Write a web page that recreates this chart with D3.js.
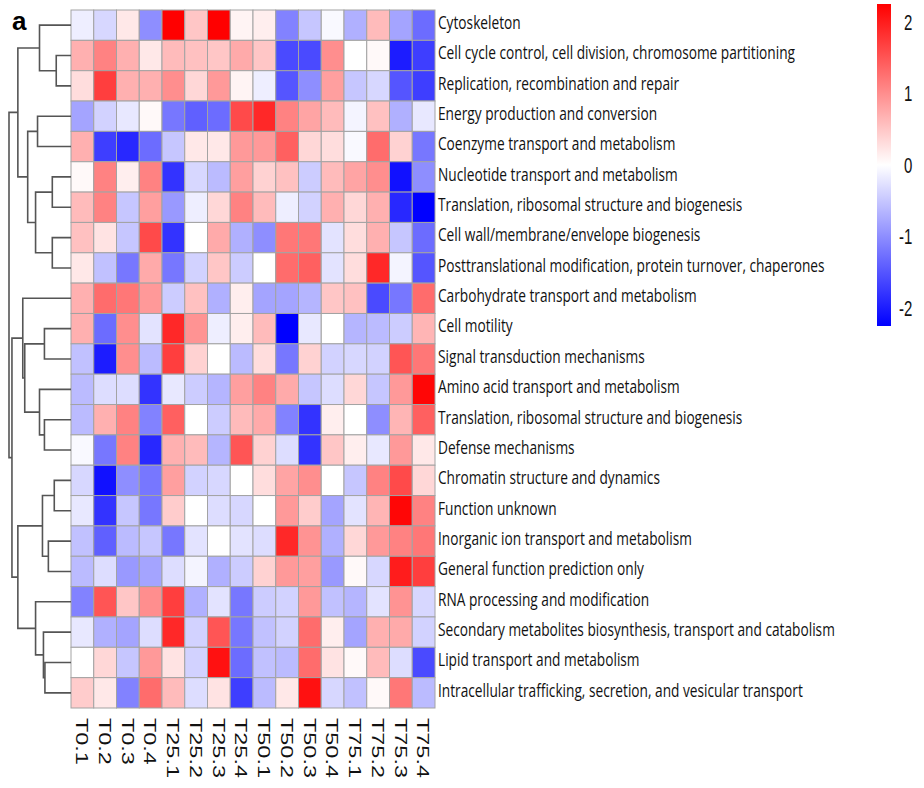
<!DOCTYPE html>
<meta charset="utf-8">
<style>
body { margin: 0; background: #fff; }
.cell { stroke: #a3a3a3; stroke-width: 1; }
.dendro { fill: none; stroke: #555; stroke-width: 1.6px; }
.rowlab { font: 13.7px "Open Sans", sans-serif; fill: #111; }
.collab { font: 17px "Liberation Sans", Arial, sans-serif; fill: #111; }
.leglab { font: 15px "Liberation Sans", Arial, sans-serif; fill: #111; }
</style>
<div id="chart"></div>
<script src="https://cdn.jsdelivr.net/npm/d3@7"></script>
<script>

var columns = ["T0.1","T0.2","T0.3","T0.4","T25.1","T25.2","T25.3","T25.4",
               "T50.1","T50.2","T50.3","T50.4","T75.1","T75.2","T75.3","T75.4"];

var categories = [
  "Cytoskeleton",
  "Cell cycle control, cell division, chromosome partitioning",
  "Replication, recombination and repair",
  "Energy production and conversion",
  "Coenzyme transport and metabolism",
  "Nucleotide transport and metabolism",
  "Translation, ribosomal structure and biogenesis",
  "Cell wall/membrane/envelope biogenesis",
  "Posttranslational modification, protein turnover, chaperones",
  "Carbohydrate transport and metabolism",
  "Cell motility",
  "Signal transduction mechanisms",
  "Amino acid transport and metabolism",
  "Translation, ribosomal structure and biogenesis",
  "Defense mechanisms",
  "Chromatin structure and dynamics",
  "Function unknown",
  "Inorganic ion transport and metabolism",
  "General function prediction only",
  "RNA processing and modification",
  "Secondary metabolites biosynthesis, transport and catabolism",
  "Lipid transport and metabolism",
  "Intracellular trafficking, secretion, and vesicular transport"
];

// z-scores, one row per category, one value per column
var matrix = [
  [-0.15,-0.35, 0.2,-1.0, 2.3, 0.5, 2.3, 0.1, 0.15,-1.1,-0.5,-0.05,-0.7, 0.6,-0.8,-1.3],
  [ 0.7, 1.1, 0.7, 0.2, 0.6, 0.55, 0.5, 0.75, 0.5,-1.6,-1.6, 1.0, 0.0, 0.05,-2.0,-1.7],
  [ 0.3, 1.7, 0.7, 0.7, 1.0, 0.35, 0.9, 0.1,-0.15,-1.5,-1.0, 0.85,-0.5,-0.35,-1.5,-1.7],
  [-0.8,-0.4,-0.2, 0.05,-1.2,-1.4,-1.3, 1.6, 1.9, 1.1, 0.8, 0.6,-0.1, 0.55,-0.7,-0.2],
  [ 0.7,-1.7,-1.9,-1.3,-0.5, 0.2, 0.2, 0.9, 0.9, 1.4, 0.35, 0.3,-0.05, 1.3, 0.4,-1.2],
  [ 0.05, 1.1, 0.15, 1.1,-1.8,-0.35,-0.6, 0.85, 0.4, 0.55,-0.45, 0.6, 0.8, 1.0,-2.1,-1.0],
  [ 0.6, 1.1,-0.5, 0.85,-0.9,-0.15, 0.35, 1.1, 0.6,-0.15,-0.4, 0.7, 0.35, 0.7,-1.9,-2.3],
  [ 0.55, 0.25,-0.5, 1.6,-1.8, 0.0, 0.75,-0.7,-1.0, 1.2, 1.2,-0.25, 0.3, 0.7,-0.5,-1.3],
  [ 0.2,-0.55,-1.2, 0.75,-1.2,-0.4, 0.5,-0.45, 0.0, 1.3, 1.4,-0.25, 0.3, 1.9,-0.1,-1.5],
  [ 0.7, 1.3, 1.2, 0.9,-0.45, 0.55,-0.7, 0.15,-0.8,-0.8,-0.65, 0.5, 0.55,-1.6,-1.2, 1.3],
  [ 0.7,-1.3, 1.0,-0.25, 1.9, 0.95,-0.15, 0.15, 0.6,-2.3,-0.2, 0.0,-0.65,-0.6,-0.45, 0.65],
  [-0.55,-2.0, 1.0,-0.6, 1.7, 0.4, 0.0,-0.6, 0.3,-1.2, 0.4,-0.4,-0.35,-0.4, 1.5, 1.2],
  [-0.6,-0.3,-0.3,-1.8,-0.2,-0.45,-0.65, 0.85, 1.1, 0.75,-0.5,-0.3, 0.35,-0.5, 0.9, 2.2],
  [-0.6, 0.7, 1.1,-1.1, 1.4, 0.0,-0.45, 0.6, 0.75,-1.1,-1.8, 0.15, 0.0,-1.0, 0.65, 1.4],
  [-0.05,-1.2, 1.1,-1.9, 0.7, 0.6,-0.65, 1.5, 0.4,-0.3,-1.8, 0.5, 0.15,-0.2, 0.9, 0.2],
  [-0.35,-2.1,-1.0,-1.2, 0.85,-0.4,-0.35, 0.0, 0.3, 0.8, 1.0, 0.0,-0.5, 1.1, 1.6, 0.35],
  [-0.2,-1.8,-0.5,-1.2, 0.45, 0.0,-0.3,-0.35, 0.0, 0.9, 0.45,-0.8,-0.25, 0.65, 2.2, 1.1],
  [-0.55,-1.4,-0.6,-0.5,-1.2,-0.25, 0.0,-0.25,-0.3, 1.9, 0.95,-0.7, 0.35, 0.9, 1.1, 1.2],
  [-0.6,-0.3,-0.9,-0.8,-0.3,-0.1,-0.7,-0.45, 0.4, 0.9, 0.85,-0.9, 0.05,-0.35, 2.0, 1.7],
  [-1.1, 1.5, 0.5, 1.0, 1.7,-0.7,-0.25,-1.2,-0.45,-0.4, 0.9,-0.55,-0.65,-0.25, 0.95,-0.35],
  [-0.2,-0.7,-0.8,-0.3, 1.9,-0.4, 1.5,-1.2,-0.55,-0.4, 1.3, 0.15,-0.8, 0.7, 0.75,-0.4],
  [ 0.0, 0.35,-0.5, 0.9, 0.25,-0.4, 2.1,-1.3,-0.55,-0.6, 1.3, 0.25, 0.05, 0.6,-0.3,-1.6],
  [ 0.45, 0.2,-1.1, 1.3, 0.6,-0.3, 0.25,-1.7,-0.6, 0.2, 2.1,-0.35,-0.55, 0.05, 1.2,-0.6]
];

// row clustering, hclust style: negative = leaf (row index + 1), positive = earlier merge
var merges = [
  [-2, -3], [-1, 1], [-4, -5], [-6, -7], [-8, -9], [4, 5], [3, 6], [2, 7],
  [-11, -12], [-14, -15], [-13, 10], [9, 11], [-10, 12],
  [-16, -17], [-18, -19], [14, 15], [-22, -23], [-21, 17], [-20, 18], [16, 19],
  [13, 20], [8, 21]
];
var mergeHeights = [15, 32, 34, 19, 19, 36, 44, 54, 27, 27, 32, 47, 49,
                    17, 23, 29, 26.5, 28, 36, 54, 60, 63];

var legendTicks = [2, 1, 0, -1, -2];

var width = 924, height = 788;
var gridLeft = 71, gridRight = 435, gridTop = 10, gridBottom = 708;
var stretch = 1.38; // the source figure is squeezed horizontally

var svg = d3.select("#chart").append("svg")
    .attr("width", width)
    .attr("height", height);

var x = d3.scaleBand().domain(columns.map((d, i) => i)).range([gridLeft, gridRight]);
var y = d3.scaleBand().domain(categories.map((d, i) => i)).range([gridTop, gridBottom]);

var color = d3.scaleLinear()
    .domain([-2.25, 0, 2.25])
    .range(["#0000ff", "#ffffff", "#ff0000"])
    .clamp(true);

// heatmap cells
var cells = [];
matrix.forEach((row, r) => row.forEach((v, c) => cells.push({r: r, c: c, v: v})));

svg.append("g").selectAll("rect")
    .data(cells)
  .enter().append("rect")
    .attr("class", "cell")
    .attr("x", d => x(d.c))
    .attr("y", d => y(d.r))
    .attr("width", x.bandwidth())
    .attr("height", y.bandwidth())
    .attr("fill", d => color(d.v));

// row labels
svg.append("g").selectAll("text")
    .data(categories)
  .enter().append("text")
    .attr("class", "rowlab")
    .attr("transform", (d, i) => `translate(${gridRight + 3},${y(i) + y.bandwidth() / 2 - 3}) scale(1,${stretch})`)
    .attr("dy", "0.36em")
    .text(d => d);

// column labels, rotated
svg.append("g").selectAll("text")
    .data(columns)
  .enter().append("text")
    .attr("class", "collab")
    .attr("transform", (d, i) => `translate(${x(i) + x.bandwidth() / 2},${gridBottom + 10}) scale(1,${stretch}) rotate(90)`)
    .attr("dy", "0.36em")
    .text(d => d);

// dendrogram
var hx = d3.scaleLinear().domain([0, d3.max(mergeHeights)]).range([gridLeft, 9]);
var nodes = [];
function pos(id) {
  if (id < 0) return {x: hx(0), y: y(-id - 1) + y.bandwidth() / 2};
  return nodes[id - 1];
}
var dpaths = [];
merges.forEach((m, i) => {
  var a = pos(m[0]), b = pos(m[1]), nx = hx(mergeHeights[i]);
  nodes.push({x: nx, y: (a.y + b.y) / 2});
  dpaths.push(`M${a.x},${a.y}H${nx}V${b.y}H${b.x}`);
});

svg.append("g").selectAll("path")
    .data(dpaths)
  .enter().append("path")
    .attr("class", "dendro")
    .attr("d", d => d);

// panel letter
svg.append("text")
    .attr("x", 12).attr("y", 30)
    .style("font", "bold 26px 'Liberation Sans', Arial, sans-serif")
    .text("a");

// colour legend
var legY = d3.scaleLinear().domain([-2.25, 2.25]).range([326, 4]);
var defs = svg.append("defs");
var grad = defs.append("linearGradient")
    .attr("id", "leg")
    .attr("x1", 0).attr("y1", 1).attr("x2", 0).attr("y2", 0);
grad.selectAll("stop")
    .data(d3.range(0, 1.0001, 0.1))
  .enter().append("stop")
    .attr("offset", d => d)
    .attr("stop-color", d => color(-2.25 + d * 4.5));

svg.append("rect")
    .attr("x", 877)
    .attr("y", legY(2.25))
    .attr("width", 14)
    .attr("height", legY(-2.25) - legY(2.25))
    .attr("fill", "url(#leg)");

svg.append("g").selectAll("text")
    .data(legendTicks)
  .enter().append("text")
    .attr("class", "leglab")
    .attr("transform", d => `translate(${d < 0 ? 899 : 904},${legY(d)}) scale(1,1.45)`)
    .attr("dy", "0.36em")
    .text(d => d < 0 ? "-" + Math.abs(d) : d);

</script>
